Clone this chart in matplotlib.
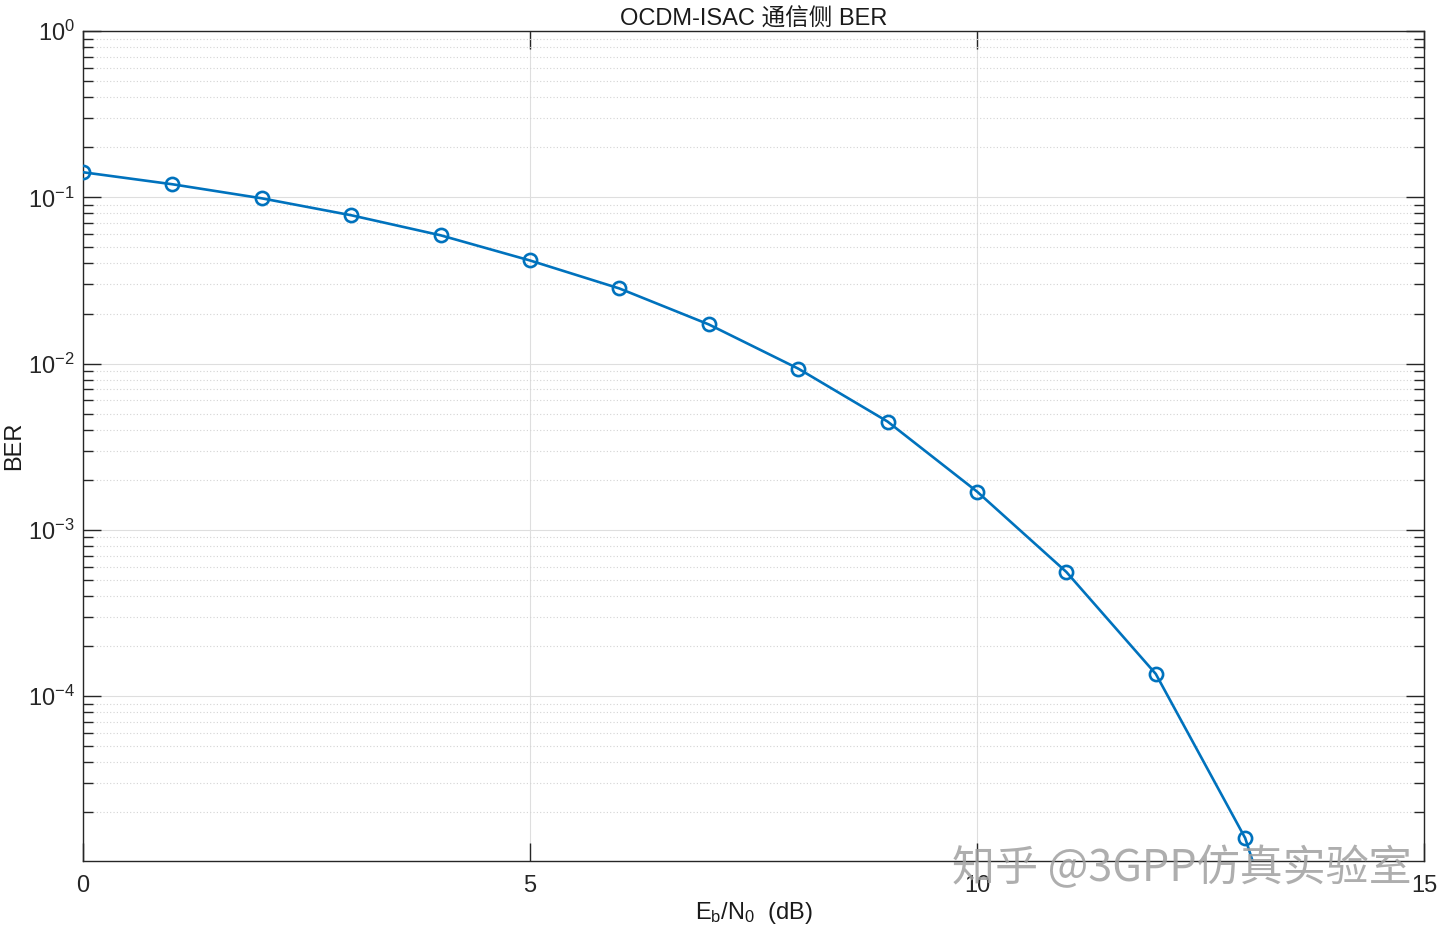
'''
OCDM-ISAC communication-side BER curve, MATLAB-like look
'''
import numpy as np
import matplotlib
matplotlib.use('Agg')
import matplotlib.pyplot as plt
from matplotlib.ticker import LogLocator, NullFormatter, FixedLocator

plt.rcParams['font.family'] = ['Liberation Sans', 'Noto Sans CJK SC', 'DejaVu Sans']
plt.rcParams['mathtext.fontset'] = 'custom'
plt.rcParams['mathtext.rm'] = 'Liberation Sans'
plt.rcParams['mathtext.it'] = 'Liberation Sans'

ebn0 = [0, 1, 2, 3, 4, 5, 6, 7, 8, 9, 10, 11, 12, 13, 14]
ber = [0.1415, 0.1198, 0.0986, 0.0780, 0.0591, 0.0417, 0.0283, 0.0172,
       0.00933, 0.00448, 0.00170, 0.000558, 0.000136, 1.40e-5, 3.0e-7]
xticks = [0, 5, 10, 15]
yticks = [1e-4, 1e-3, 1e-2, 1e-1, 1e0]
ytick_labels = ['$\\mathregular{10^{-4}}$', '$\\mathregular{10^{-3}}$',
                '$\\mathregular{10^{-2}}$', '$\\mathregular{10^{-1}}$',
                '$\\mathregular{10^{0}}$']

fig = plt.figure(figsize=(14.4, 9.26), dpi=100)
ax = fig.add_axes([0.0576, 0.0702, 0.9313, 0.8963])

ax.semilogy(ebn0, ber, '-o', color='#0072BD', lw=1.9, ms=9.5,
            mfc='none', mew=1.9, zorder=3)

ax.set_xlim(0, 15)
ax.set_ylim(1.02e-5, 1)
ax.xaxis.set_major_locator(FixedLocator(xticks))
ax.yaxis.set_major_locator(FixedLocator(yticks))
ax.set_yticklabels(ytick_labels)
ax.yaxis.set_minor_locator(LogLocator(base=10, subs=np.arange(2, 10), numticks=20))
ax.yaxis.set_minor_formatter(NullFormatter())

# grid like matlab: solid major, dotted minor
ax.grid(True, which='major', color='#dedede', lw=0.8, ls='-')
ax.grid(True, which='minor', axis='y', color='#d4d4d4', lw=0.8, ls=(0, (1, 2)))
ax.set_axisbelow(True)

ax.tick_params(which='both', direction='in', top=True, right=True,
               colors='#262626', labelsize=17, width=1)
ax.tick_params(which='major', length=13)
ax.tick_params(which='minor', length=7)
ax.tick_params(axis='x', pad=10)
ax.tick_params(axis='y', pad=6)
for s in ax.spines.values():
    s.set_color('#262626')
    s.set_linewidth(1)

ax.set_title('OCDM-ISAC 通信侧 BER', fontsize=17, color='#1a1a1a', pad=4)
ax.set_xlabel('E$_\\mathregular{b}$/N$_\\mathregular{0}$  (dB)', fontsize=17,
              color='#1a1a1a', labelpad=2)
ax.set_ylabel('BER', fontsize=17, color='#1a1a1a', labelpad=2)

# watermark from the source image
fig.text(0.661, 0.061, '知乎 @3GPP仿真实验室', fontsize=31, color='#a0a0a0',
         alpha=0.85, ha='left', va='center',
         family=['Noto Sans CJK SC', 'DejaVu Sans'])

fig.savefig('out.png', dpi=100)
